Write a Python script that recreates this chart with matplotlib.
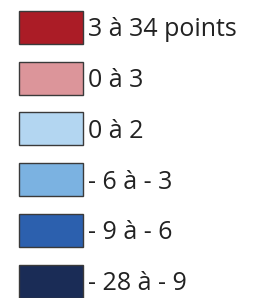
import matplotlib
matplotlib.use("Agg")
from matplotlib import pyplot as plt
from matplotlib.patches import Rectangle

# Legend classes (top to bottom)
labels = ["3 à 34 points", "0 à 3", "0 à 2", "- 6 à - 3", "- 9 à - 6", "- 28 à - 9"]
colors = ["#AB1C26", "#DC959A", "#B3D6F1", "#7BB2E1", "#2C60AE", "#1A2C56"]

fig = plt.figure(figsize=(2.6, 2.98), dpi=100)
ax = fig.add_axes([0, 0, 1, 1])
ax.set_xlim(0, 260)
ax.set_ylim(298, 0)
ax.axis("off")

# boxes laid out in pixel units
top = 11
step = 50.7
for i in range(len(labels)):
    y = top + i * step
    ax.add_patch(Rectangle((18.5, y), 64, 33, facecolor=colors[i],
                           edgecolor="#3a3a3a", linewidth=1))
    ax.text(88, y + 25.5, labels[i], fontsize=18, family="Open Sans",
            color="#222222", va="baseline", ha="left")

fig.savefig("out.png", dpi=100)
